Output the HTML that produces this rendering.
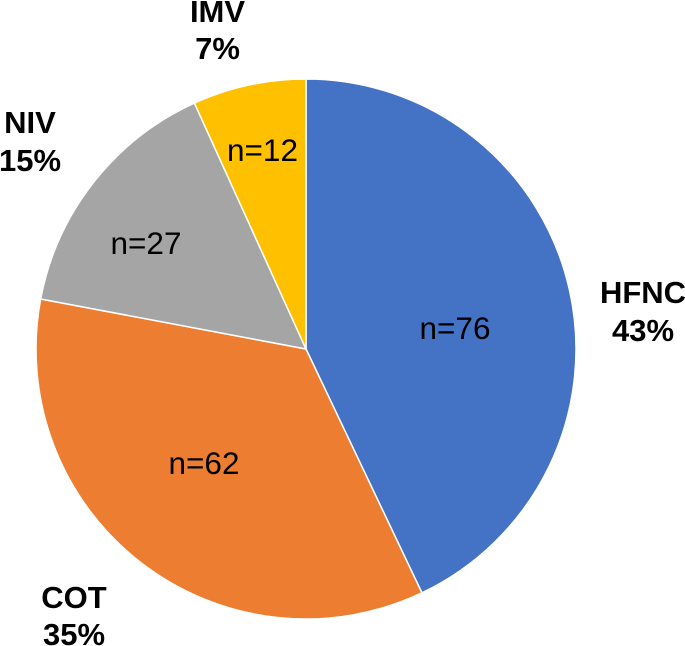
<!DOCTYPE html>
<html>
<head>
<meta charset="utf-8">
<style>
html,body{margin:0;padding:0;background:#fff;width:685px;height:646px;overflow:hidden}
svg{display:block}
text{font-family:"Liberation Sans",sans-serif;fill:#000}
.c{font-size:31px;font-weight:700;text-anchor:middle}
.n{font-size:31.5px;text-anchor:middle}
</style>
</head>
<body>
<svg id="chart" width="685" height="646" viewBox="0 0 685 646" xmlns="http://www.w3.org/2000/svg"></svg>
<script>
const categories = ["HFNC", "COT", "NIV", "IMV"];
const counts = [76, 62, 27, 12];
const percents = ["43%", "35%", "15%", "7%"];
const countLabels = ["n=76", "n=62", "n=27", "n=12"];
const colors = ["#4472C4", "#ED7D31", "#A5A5A5", "#FFC000"];
const categoryAnchors = [[643, 303, 341], [74, 608, 645], [30, 133, 171], [217.5, 22, 59]];
const countAnchors = [[455, 339], [204, 474], [146, 254], [262.5, 161]];

const NS = "http://www.w3.org/2000/svg";
const svg = document.getElementById("chart");
const cx = 306, cy = 349, r = 270;
const total = counts.reduce((a, b) => a + b, 0);
function angle(v) { return v / total * 2 * Math.PI; }
function px(a) { return cx + r * Math.sin(a); }
function py(a) { return cy - r * Math.cos(a); }

let cum = 0;
counts.forEach((v, i) => {
  const a0 = angle(cum), a1 = angle(cum + v);
  cum += v;
  const p = document.createElementNS(NS, "path");
  const large = (a1 - a0) > Math.PI ? 1 : 0;
  p.setAttribute("d", `M${cx} ${cy}L${px(a0)} ${py(a0)}A${r} ${r} 0 ${large} 1 ${px(a1)} ${py(a1)}Z`);
  p.setAttribute("fill", colors[i]);
  p.setAttribute("stroke", "#fff");
  p.setAttribute("stroke-width", "1.5");
  
  
  svg.appendChild(p);
});

function addText(str, x, y, cls, name) {
  const t = document.createElementNS(NS, "text");
  t.setAttribute("x", x);
  t.setAttribute("y", y);
  t.setAttribute("class", cls);
  
  
  t.textContent = str;
  svg.appendChild(t);
}

categories.forEach((c, i) => {
  const k = c.toLowerCase();
  addText(c, categoryAnchors[i][0], categoryAnchors[i][1], "c", "category-label-" + k);
  addText(percents[i], categoryAnchors[i][0], categoryAnchors[i][2], "c", "percent-label-" + k);
  addText(countLabels[i], countAnchors[i][0], countAnchors[i][1], "n", "count-label-" + k);
});
</script>
</body>
</html>
